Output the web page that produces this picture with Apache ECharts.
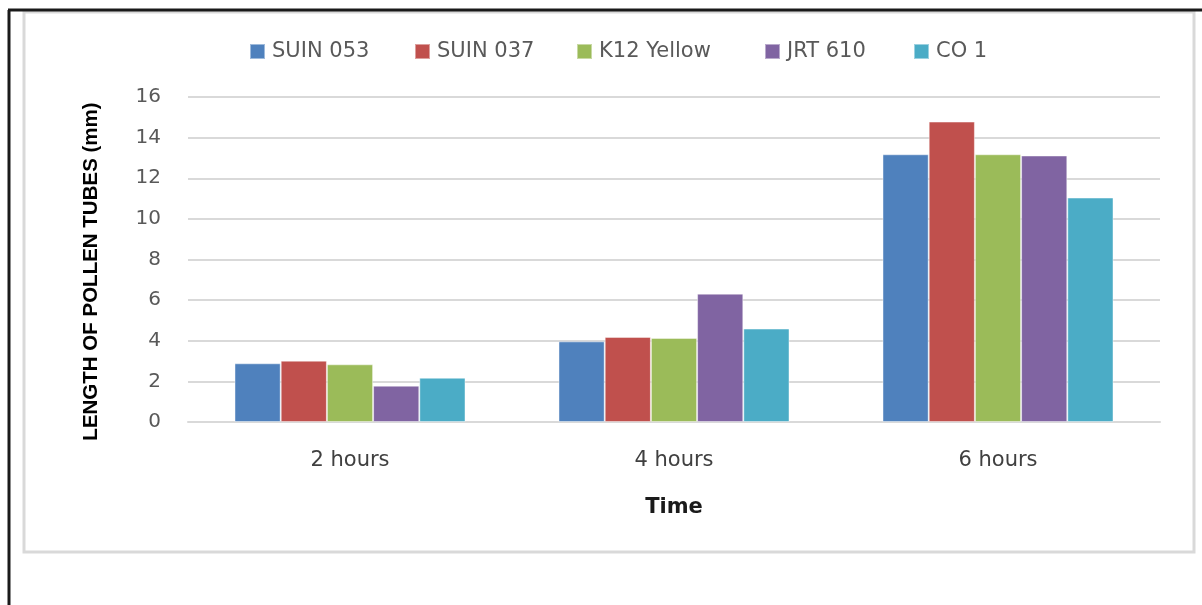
<!DOCTYPE html>
<html>
<head>
<meta charset="utf-8">
<script src="https://cdn.jsdelivr.net/npm/echarts@6/dist/echarts.min.js"></script>
<style>
  html, body { margin: 0; padding: 0; background: #fff; }
  #chart { width: 1202px; height: 605px; }
</style>
</head>
<body>
<div id="chart"></div>
<script>
// data
var categories = ['2 hours', '4 hours', '6 hours']
var seriesNames = ['SUIN 053', 'SUIN 037', 'K12 Yellow', 'JRT 610', 'CO 1']
var suin053 = [2.89, 3.97, 13.18]
var suin037 = [3.02, 4.19, 14.79]
var k12Yellow = [2.84, 4.14, 13.18]
var jrt610 = [1.79, 6.32, 13.12]
var co1 = [2.18, 4.60, 11.05]
var yTicks = [0, 16, 2] // min, max, interval

var colors = ['#4F81BD', '#C0504D', '#9BBB59', '#8064A2', '#4BACC6']
var values = [suin053, suin037, k12Yellow, jrt610, co1]
var legendLeft = [244, 409, 571, 759, 908]

var chart = echarts.init(document.getElementById('chart'))

var legends = seriesNames.map(function(name, i) {
    return {
        data: [name],
        left: legendLeft[i],
        top: 36,
        itemWidth: 15,
        itemHeight: 15,
        itemGap: 0,
        icon: 'rect',
        textStyle: { fontFamily: 'DejaVu Sans', fontSize: 21, color: '#595959', padding: [0, 0, 0, 2] }
    }
})

var series = seriesNames.map(function(name, i) {
    return {
        name: name,
        type: 'bar',
        data: values[i],
        barGap: '0%',
        barCategoryGap: '28.7%',
        itemStyle: { color: colors[i], borderColor: 'rgba(255,255,255,0.45)', borderWidth: 1 }
    }
})

chart.setOption({
    animation: false,
    legend: legends,
    graphic: [
        { type: 'rect', shape: { x: 24, y: 12, width: 1170, height: 540 },
          style: { fill: 'none', stroke: '#d9d9d9', lineWidth: 3 } },
        { type: 'line', shape: { x1: 8, y1: 10, x2: 1202, y2: 10 },
          style: { stroke: '#1a1a1a', lineWidth: 3 } },
        { type: 'line', shape: { x1: 9, y1: 10, x2: 9, y2: 605 },
          style: { stroke: '#1a1a1a', lineWidth: 3 } }
    ],
    grid: { left: 188, right: 42, top: 97, bottom: 183 },
    xAxis: {
        type: 'category',
        data: categories,
        name: 'Time',
        nameLocation: 'middle',
        nameGap: 75,
        nameTextStyle: { fontFamily: 'DejaVu Sans', fontWeight: 'bold', fontSize: 21, color: '#1a1a1a' },
        axisTick: { show: false },
        axisLine: { lineStyle: { color: '#d9d9d9', width: 2 } },
        axisLabel: { fontFamily: 'DejaVu Sans', fontSize: 21, color: '#404040', margin: 28 }
    },
    yAxis: {
        type: 'value',
        min: yTicks[0],
        max: yTicks[1],
        interval: yTicks[2],
        name: 'LENGTH OF POLLEN TUBES (mm)',
        nameLocation: 'middle',
        nameGap: 86,
        nameTextStyle: { fontFamily: 'Liberation Sans', fontWeight: 'bold', fontSize: 20.5, color: '#000', padding: [0, 24, 0, 0] },
        axisLine: { show: false },
        axisTick: { show: false },
        splitLine: { lineStyle: { color: '#d9d9d9', width: 2 } },
        axisLabel: { fontFamily: 'DejaVu Sans', fontSize: 20, color: '#595959', margin: 27 }
    },
    series: series
})
</script>
</body>
</html>
